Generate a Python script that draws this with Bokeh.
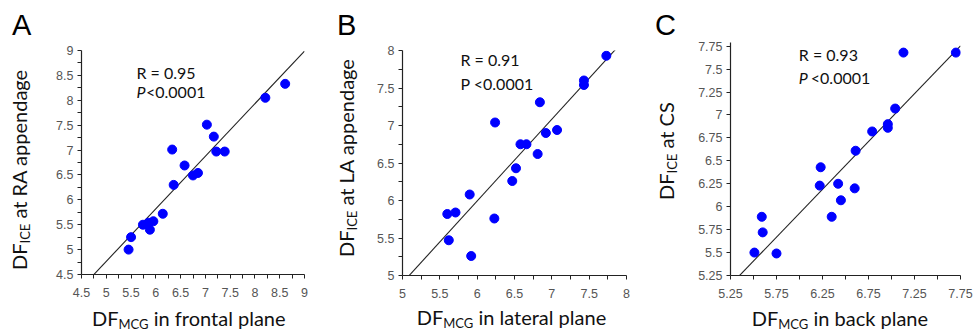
from bokeh.plotting import figure
from bokeh.models import Range1d, FixedTicker, Label, Div
from bokeh.layouts import row, column
from bokeh.embed import file_html
from bokeh.resources import INLINE

# ---------------- data ----------------
# Panel A: DF_MCG frontal plane vs DF_ICE at RA appendage
a_x = [5.45, 5.50, 5.74, 5.85, 5.95, 5.88, 6.14, 6.33, 6.36, 6.58, 6.75, 6.85, 7.03, 7.17, 7.22, 7.39, 8.21, 8.61]
a_y = [5.00, 5.25, 5.50, 5.54, 5.57, 5.40, 5.72, 7.01, 6.30, 6.69, 6.49, 6.54, 7.51, 7.27, 6.97, 6.97, 8.05, 8.33]
# Panel B: DF_MCG lateral plane vs DF_ICE at LA appendage
b_x = [5.60, 5.71, 5.62, 5.90, 5.92, 6.23, 6.24, 6.47, 6.52, 6.58, 6.66, 6.81, 6.84, 6.92, 7.07, 7.43, 7.43, 7.73]
b_y = [5.82, 5.84, 5.47, 6.08, 5.26, 5.76, 7.04, 6.26, 6.43, 6.75, 6.75, 6.62, 7.31, 6.90, 6.94, 7.54, 7.60, 7.93]
# Panel C: DF_MCG back plane vs DF_ICE at CS
c_x = [5.51, 5.59, 5.60, 5.75, 6.22, 6.23, 6.35, 6.42, 6.45, 6.60, 6.61, 6.79, 6.96, 6.96, 7.04, 7.13, 7.70]
c_y = [5.50, 5.89, 5.72, 5.49, 6.23, 6.43, 5.89, 6.25, 6.07, 6.20, 6.61, 6.82, 6.86, 6.90, 7.07, 7.68, 7.68]

# regression lines
fit_slope = [1.056, 1.091, 1.042]
fit_intercept = [-0.516, -0.553, -0.323]

r_texts = ["R = 0.95", "R = 0.91", "R = 0.93"]
p_texts = ["<0.0001", "P <0.0001", "<0.0001"]
panel_letters = ["A", "B", "C"]
x_titles = ["in frontal plane", "in lateral plane", "in back plane"]
y_titles = ["at RA appendage", "at LA appendage", "at CS"]

a_ticks = [4.5, 5.0, 5.5, 6.0, 6.5, 7.0, 7.5, 8.0, 8.5, 9.0]
a_labels = ["4.5", "5", "5.5", "6", "6.5", "7", "7.5", "8", "8.5", "9"]
b_ticks = [5.0, 5.5, 6.0, 6.5, 7.0, 7.5, 8.0]
b_labels = ["5", "5.5", "6", "6.5", "7", "7.5", "8"]
c_xticks = [5.25, 5.75, 6.25, 6.75, 7.25, 7.75]
c_xlabels = ["5.25", "5.75", "6.25", "6.75", "7.25", "7.75"]
c_yticks = [5.25, 5.5, 5.75, 6.0, 6.25, 6.5, 6.75, 7.0, 7.25, 7.5, 7.75]
c_ylabels = ["5.25", "5.5", "5.75", "6", "6.25", "6.5", "6.75", "7", "7.25", "7.5", "7.75"]

TITLE_FONT = "Lato"
TICK_FONT = "Liberation Sans"
H_TOP = 305      # height of the upper part (y-title strip + plot)
H_BOTTOM = 27    # height of the x-title strip
LEFT_W = 40      # width of the y-title strip

SUB_STYLE = "font-size:13px;vertical-align:-3px;line-height:0;"
TXT_STYLE = f"font-family:{TITLE_FONT};font-size:20px;line-height:20px;color:#111111;white-space:nowrap;"


def mids(t):
    return [(t[i] + t[i + 1]) / 2 for i in range(len(t) - 1)]


def lab(p, x, y, text, size, style="normal"):
    p.add_layout(Label(x=x, y=y, x_units="screen", y_units="screen", text=text,
                       text_font=TITLE_FONT, text_font_size=f"{size}px", text_font_style=style,
                       text_color="#111111", text_align="left", text_baseline="alphabetic"))


def panel(cfg):
    W = cfg["w"]
    p = figure(width=W - LEFT_W, height=H_TOP, output_backend="svg", toolbar_location=None,
               title=None,
               x_range=Range1d(*cfg["xr"]), y_range=Range1d(*cfg["yr"]),
               min_border_left=cfg["bl"] - LEFT_W, min_border_right=cfg["br"],
               min_border_top=cfg["bt"], min_border_bottom=H_TOP - cfg["fb"])
    p.outline_line_color = None
    p.xgrid.visible = False
    p.ygrid.visible = False
    p.background_fill_color = "white"
    p.border_fill_color = "white"

    p.xaxis.ticker = FixedTicker(ticks=cfg["xt"], minor_ticks=cfg["xm"])
    p.yaxis.ticker = FixedTicker(ticks=cfg["yt"], minor_ticks=cfg["ym"])
    p.xaxis.major_label_overrides = dict(zip(cfg["xt"], cfg["xl"]))
    p.yaxis.major_label_overrides = dict(zip(cfg["yt"], cfg["yl"]))
    for ax in (p.xaxis, p.yaxis):
        ax.axis_line_color = "#222222"
        ax.axis_line_width = 1.2
        ax.major_tick_line_color = "#222222"
        ax.minor_tick_line_color = "#222222"
        ax.major_tick_in = 0
        ax.major_tick_out = 4
        ax.minor_tick_in = 0
        ax.minor_tick_out = 4
        ax.major_label_text_font = TICK_FONT
        ax.major_label_text_font_size = "12.5px"
        ax.major_label_text_color = "#555555"
    p.xaxis.major_label_standoff = 9
    p.yaxis.major_label_standoff = 4

    # regression line, clipped to the frame
    m, b = cfg["fit"]
    x0, x1 = cfg["xr"]
    p.line([x0, x1], [m * x0 + b, m * x1 + b], line_color="#222222", line_width=1.1)
    p.scatter(cfg["x"], cfg["y"], size=9, fill_color="#0000FF", line_color="#0000FF")

    # statistics text (screen units from frame bottom-left)
    rx, ry, py, poff = cfg["stats"]
    fx, fb = cfg["bl"], cfg["fb"]
    lab(p, rx - fx, fb - ry, cfg["r"], 16)
    if cfg["italic_p"]:
        lab(p, rx - fx, fb - py, "P", 16, style="italic")
        lab(p, rx - fx + poff, fb - py, cfg["p"], 16)
    else:
        lab(p, rx - fx, fb - py, cfg["p"], 16)

    # left strip: panel letter + rotated y title
    lx, ltop = cfg["letter_pos"]
    vx, vy = cfg["ytitle"]
    left_html = (
        f'<div style="position:relative;width:{LEFT_W}px;height:{H_TOP}px;">'
        f'<span style="position:absolute;left:{lx}px;top:{ltop}px;font-family:Liberation Sans;'
        f'font-size:29px;line-height:29px;color:#000000;">{cfg["letter"]}</span>'
        f'<span style="position:absolute;left:{vx}px;top:{vy}px;transform-origin:0 0;'
        f'transform:rotate(-90deg);{TXT_STYLE}">DF<sub style="{SUB_STYLE}">ICE</sub> {cfg["ytext"]}</span>'
        f'</div>'
    )
    left = Div(text=left_html, width=LEFT_W, height=H_TOP, margin=0)

    # bottom strip: x title
    tx, ttop = cfg["xtitle"]
    bottom_html = (
        f'<div style="position:relative;width:{W}px;height:{H_BOTTOM}px;">'
        f'<span style="position:absolute;left:{tx}px;top:{ttop}px;{TXT_STYLE}">'
        f'DF<sub style="{SUB_STYLE}">MCG</sub> {cfg["xtext"]}</span>'
        f'</div>'
    )
    bottom = Div(text=bottom_html, width=W, height=H_BOTTOM, margin=0)

    return column(row(left, p, spacing=0), bottom, spacing=0)


cfgs = [
    dict(w=320, bl=81, br=16, bt=50, fb=274, xr=(4.5, 9.0), yr=(4.5, 9.0),
         xt=a_ticks, xl=a_labels, xm=mids(a_ticks), yt=a_ticks, yl=a_labels, ym=mids(a_ticks),
         x=a_x, y=a_y, fit=(fit_slope[0], fit_intercept[0]),
         letter=panel_letters[0], letter_pos=(12, 10.5),
         r=r_texts[0], p=p_texts[0], italic_p=True, stats=(136, 72.3, 90.7, 9.5),
         xtitle=(92, 2.5), xtext=x_titles[0], ytitle=(9.3, 270), ytext=y_titles[0]),
    dict(w=320, bl=82, br=14, bt=50, fb=275, xr=(5.0, 8.0), yr=(5.0, 8.0),
         xt=b_ticks, xl=b_labels, xm=mids(b_ticks), yt=b_ticks, yl=b_labels, ym=mids(b_ticks),
         x=b_x, y=b_y, fit=(fit_slope[1], fit_intercept[1]),
         letter=panel_letters[1], letter_pos=(17, 10.5),
         r=r_texts[1], p=p_texts[1], italic_p=False, stats=(140, 59.3, 82.7, 0),
         xtitle=(96.7, 2), xtext=x_titles[1], ytitle=(15.6, 257), ytext=y_titles[1]),
    dict(w=334, bl=90, br=14, bt=42, fb=275, xr=(5.25, 7.75), yr=(5.25, 7.79),
         xt=c_xticks, xl=c_xlabels, xm=mids(c_xticks), yt=c_yticks, yl=c_ylabels, ym=[],
         x=c_x, y=c_y, fit=(fit_slope[2], fit_intercept[2]),
         letter=panel_letters[2], letter_pos=(15, 10.5),
         r=r_texts[2], p=p_texts[2], italic_p=True, stats=(158.3, 53.5, 77.3, 12),
         xtitle=(111.7, 2.5), xtext=x_titles[2], ytitle=(15.6, 200), ytext=y_titles[2]),
]

layout = row(*[panel(c) for c in cfgs], spacing=0)

open("out.html", "w").write(file_html(layout, INLINE))
